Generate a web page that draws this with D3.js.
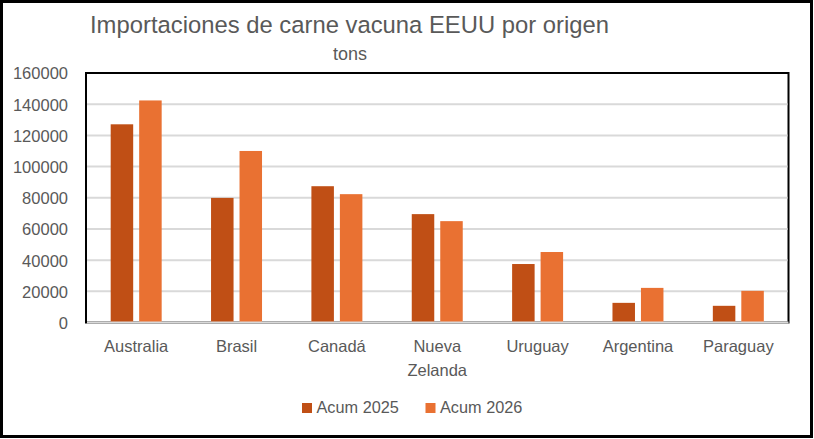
<!DOCTYPE html>
<html>
<head>
<meta charset="utf-8">
<script src="https://cdn.jsdelivr.net/npm/d3@7/dist/d3.min.js"></script>
<style>
  html, body { margin: 0; padding: 0; background: #fff; }
  svg { display: block; }
</style>
</head>
<body>
<svg id="chart" width="814" height="439"></svg>
<script>
const categories = ["Australia", "Brasil", "Canadá", "Nueva Zelanda", "Uruguay", "Argentina", "Paraguay"];
const seriesNames = ["Acum 2025", "Acum 2026"];
const acum2025 = [127100, 79900, 87400, 69500, 37500, 12600, 10700];
const acum2026 = [142400, 110000, 82300, 65000, 45200, 22200, 20300];
const yTicks = [0, 20000, 40000, 60000, 80000, 100000, 120000, 140000, 160000];
const titleText = "Importaciones de carne vacuna EEUU por origen";
const subtitleText = "tons";

const colors = ["#C04F15", "#E97132"];
const textColor = "#595959";
const seriesValues = [acum2025, acum2026];

const svg = d3.select("#chart");
const W = 814, H = 439;
const plot = { left: 86, right: 788.5, top: 73, bottom: 322.5 };

// outer border
svg.append("rect")
  .attr("x", 1.5).attr("y", 1.5).attr("width", W - 4).attr("height", H - 4)
  .attr("fill", "#fff").attr("stroke", "#000").attr("stroke-width", 3);

// title
svg.append("text")
  .attr("x", 90).attr("y", 33)
  .attr("font-family", "'Liberation Sans Narrow', 'Arial Narrow', 'Liberation Sans', Arial, sans-serif")
  .attr("font-size", 24.5)
  .attr("fill", textColor)
  .attr("textLength", 519).attr("lengthAdjust", "spacingAndGlyphs")
  .text(titleText);

svg.append("text")
  .attr("x", 350).attr("y", 60)
  .attr("text-anchor", "middle")
  .attr("font-family", "'Liberation Sans Narrow', 'Arial Narrow', 'Liberation Sans', Arial, sans-serif")
  .attr("font-size", 18)
  .attr("fill", textColor)
  .attr("textLength", 34).attr("lengthAdjust", "spacingAndGlyphs")
  .text(subtitleText);

// scales
const x0 = d3.scaleBand()
  .domain(categories)
  .range([plot.left, plot.right])
  .paddingInner(0.492)
  .paddingOuter(0.246);

const x1 = d3.scaleBand()
  .domain(seriesNames)
  .range([0, x0.bandwidth()])
  .paddingInner(0.21);

const y = d3.scaleLinear()
  .domain([0, 160000])
  .range([plot.bottom, plot.top]);

// plot area border
svg.append("rect")
  .attr("x", plot.left).attr("y", plot.top)
  .attr("width", plot.right - plot.left).attr("height", plot.bottom - plot.top)
  .attr("fill", "#fff").attr("stroke", "#000").attr("stroke-width", 2);

// gridlines
svg.append("g")
  .selectAll("line")
  .data(yTicks.filter(v => v > 0 && v < 160000))
  .join("line")
  .attr("x1", plot.left + 1).attr("x2", plot.right - 1)
  .attr("y1", d => y(d)).attr("y2", d => y(d))
  .attr("stroke", "#D9D9D9").attr("stroke-width", 2);

// y axis labels
const yAxis = d3.axisLeft(y).tickValues(yTicks).tickSize(0).tickPadding(0).tickFormat(d3.format("d"));
const yg = svg.append("g").attr("transform", `translate(68,0)`).call(yAxis);
yg.select(".domain").remove();
yg.selectAll("text")
  .attr("font-family", "'Liberation Sans', Arial, sans-serif")
  .attr("font-size", 16.5)
  .attr("fill", textColor)
  .attr("dy", "0.36em");

// bars
const groups = svg.append("g")
  .selectAll("g")
  .data(categories)
  .join("g")
  .attr("transform", d => `translate(${x0(d)},0)`);

groups.selectAll("rect")
  .data((d, i) => seriesNames.map((s, j) => ({ s, j, v: seriesValues[j][i] })))
  .join("rect")
  .attr("x", d => x1(d.s))
  .attr("width", x1.bandwidth())
  .attr("y", d => y(d.v))
  .attr("height", d => y(0) - y(d.v))
  .attr("fill", d => colors[d.j]);

// zero axis line
svg.append("line")
  .attr("x1", plot.left + 1).attr("x2", plot.right)
  .attr("y1", y(0)).attr("y2", y(0))
  .attr("stroke", "#D9D9D9").attr("stroke-width", 2);

// x labels
const xl = svg.append("g");
categories.forEach(c => {
  const words = c === "Nueva Zelanda" ? ["Nueva", "Zelanda"] : [c];
  const t = xl.append("text")
    .attr("x", x0(c) + x0.bandwidth() / 2)
    .attr("y", 352)
    .attr("text-anchor", "middle")
    .attr("font-family", "'Liberation Sans', Arial, sans-serif")
    .attr("font-size", 16.5)
    .attr("fill", textColor);
  words.forEach((w, i) => {
    t.append("tspan")
      .attr("x", x0(c) + x0.bandwidth() / 2)
      .attr("dy", i === 0 ? 0 : 23.5)
      .text(w);
  });
});

// legend
const legendItems = [{ name: seriesNames[0], x: 302 }, { name: seriesNames[1], x: 425.5 }];
const lg = svg.append("g");
legendItems.forEach((it, i) => {
  lg.append("rect")
    .attr("x", it.x).attr("y", 403)
    .attr("width", 10).attr("height", 10)
    .attr("fill", colors[i]);
  lg.append("text")
    .attr("x", it.x + 14.5).attr("y", 413.3)
    .attr("font-family", "'Liberation Sans', Arial, sans-serif")
    .attr("font-size", 16.3)
    .attr("fill", textColor)
    .text(it.name);
});
</script>
</body>
</html>
